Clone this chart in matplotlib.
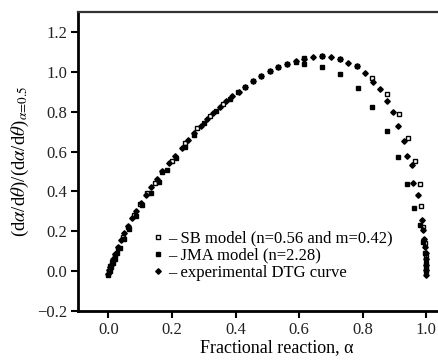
import matplotlib
matplotlib.use("Agg")
import matplotlib.pyplot as plt
from matplotlib.lines import Line2D

plt.rcParams["font.family"] = ["Liberation Serif", "DejaVu Serif"]
plt.rcParams["mathtext.fontset"] = "stix"

# ── data ─────────────────────────────────────────────────────────────────────

# experimental DTG curve
alpha_exp = [0.000, 0.003, 0.006, 0.010, 0.015, 0.022, 0.030, 0.040, 0.050, 0.062,
             0.075, 0.088, 0.102, 0.118, 0.135, 0.152, 0.170, 0.190, 0.210, 0.230,
             0.250, 0.270, 0.290, 0.310, 0.330, 0.350, 0.370, 0.390, 0.410, 0.430,
             0.455, 0.480, 0.507, 0.535, 0.563, 0.590, 0.617, 0.645, 0.673, 0.700,
             0.729, 0.755, 0.782, 0.808, 0.834, 0.855, 0.878, 0.895, 0.913, 0.929,
             0.941, 0.955, 0.960, 0.973, 0.986, 0.990, 0.994, 0.998, 1.000, 1.000,
             1.000, 1.000, 1.000]
y_exp = [-0.015, 0.005, 0.020, 0.035, 0.060, 0.088, 0.120, 0.155, 0.190, 0.225,
         0.265, 0.300, 0.340, 0.380, 0.420, 0.460, 0.500, 0.540, 0.580, 0.620,
         0.660, 0.695, 0.730, 0.765, 0.795, 0.825, 0.852, 0.877, 0.900, 0.924,
         0.953, 0.980, 1.005, 1.024, 1.040, 1.053, 1.066, 1.073, 1.077, 1.074,
         1.062, 1.045, 1.028, 0.995, 0.948, 0.913, 0.853, 0.797, 0.728, 0.655,
         0.580, 0.533, 0.444, 0.382, 0.256, 0.206, 0.159, 0.122, 0.090, 0.060,
         0.030, 0.005, -0.020]

# JMA model (n=2.28)
alpha_jma = [0.000, 0.004, 0.008, 0.014, 0.020, 0.028, 0.035, 0.050, 0.065, 0.086,
             0.106, 0.133, 0.159, 0.185, 0.212, 0.241, 0.270, 0.300, 0.339, 0.383,
             0.430, 0.480, 0.535, 0.590, 0.617, 0.673, 0.729, 0.784, 0.831, 0.878,
             0.913, 0.939, 0.963, 0.981, 0.990, 0.995, 1.000, 1.000]
y_jma = [-0.020, 0.000, 0.020, 0.040, 0.060, 0.090, 0.115, 0.160, 0.210, 0.275,
         0.330, 0.390, 0.449, 0.505, 0.566, 0.625, 0.685, 0.745, 0.805, 0.866,
         0.925, 0.980, 1.024, 1.050, 1.040, 1.024, 0.988, 0.918, 0.822, 0.703,
         0.571, 0.437, 0.315, 0.231, 0.147, 0.090, 0.040, 0.000]

# SB model (n=0.56 and m=0.42)
alpha_sb = [0.002, 0.006, 0.012, 0.020, 0.030, 0.045, 0.060, 0.080, 0.100, 0.122,
            0.145, 0.170, 0.200, 0.241, 0.280, 0.320, 0.360, 0.407, 0.455, 0.507,
            0.563, 0.617, 0.673, 0.729, 0.782, 0.831, 0.878, 0.915, 0.942, 0.965,
            0.981, 0.983, 0.990, 0.995, 1.000, 1.000]
y_sb = [0.000, 0.025, 0.045, 0.080, 0.115, 0.170, 0.220, 0.280, 0.335, 0.390,
        0.440, 0.495, 0.555, 0.642, 0.720, 0.780, 0.840, 0.900, 0.955, 1.005,
        1.040, 1.069, 1.077, 1.064, 1.030, 0.968, 0.888, 0.787, 0.670, 0.554,
        0.437, 0.327, 0.220, 0.140, 0.070, 0.020]

labels = ["\u2013 SB model (n=0.56 and m=0.42)",
          "\u2013 JMA model (n=2.28)",
          "\u2013 experimental DTG curve"]

# ── figure ───────────────────────────────────────────────────────────────────

fig = plt.figure(figsize=(4.38, 3.60), dpi=100)
fig.patch.set_facecolor("white")
# right edge of the frame lies outside the picture in the original
ax = fig.add_axes([78 / 438, 49 / 360, 398 / 438, 299 / 360])

ax.plot(alpha_sb, y_sb, ls="none", marker="s", ms=3.4, mfc="white",
        mec="black", mew=1.0, zorder=3)
ax.plot(alpha_jma, y_jma, ls="none", marker="s", ms=3.4, color="black", zorder=4)
ax.plot(alpha_exp, y_exp, ls="none", marker="D", ms=2.8, color="black", zorder=5)

ax.set_xlim(-0.096, 1.157)
ax.set_ylim(-0.2, 1.3)
ax.set_xticks([0.0, 0.2, 0.4, 0.6, 0.8, 1.0])
ax.set_yticks([-0.2, 0.0, 0.2, 0.4, 0.6, 0.8, 1.0, 1.2])
ax.set_xticklabels(["0.0", "0.2", "0.4", "0.6", "0.8", "1.0"])
ax.set_yticklabels(["\u22120.2", "0.0", "0.2", "0.4", "0.6", "0.8", "1.0", "1.2"])
ax.tick_params(direction="out", length=5, width=1.5, labelsize=12,
               colors="black", labelcolor="#222222", pad=3)

for side in ("left", "bottom"):
    ax.spines[side].set_linewidth(2)
ax.spines["top"].set_linewidth(1.6)
ax.spines["top"].set_color("#333333")
ax.spines["right"].set_visible(False)

ax.set_xlabel("Fractional reaction, \u03b1", fontsize=13, labelpad=1)
ax.set_ylabel(r"(d$\alpha$/d$\theta$)/(d$\alpha$/d$\theta$)$_{\alpha\!=\!0.5}$",
              fontsize=13.5, labelpad=4)

handles = [
    Line2D([], [], ls="none", marker="s", ms=3.4, mfc="white", mec="black", mew=1.0),
    Line2D([], [], ls="none", marker="s", ms=3.4, color="black"),
    Line2D([], [], ls="none", marker="D", ms=2.8, color="black"),
]
ax.legend(handles, labels, loc="upper left", bbox_to_anchor=(0.188, 0.268),
          frameon=False, fontsize=12, handlelength=0.6, handletextpad=0.3,
          labelspacing=0.05, borderaxespad=0, borderpad=0)

fig.savefig("out.png", dpi=100)
plt.close(fig)
